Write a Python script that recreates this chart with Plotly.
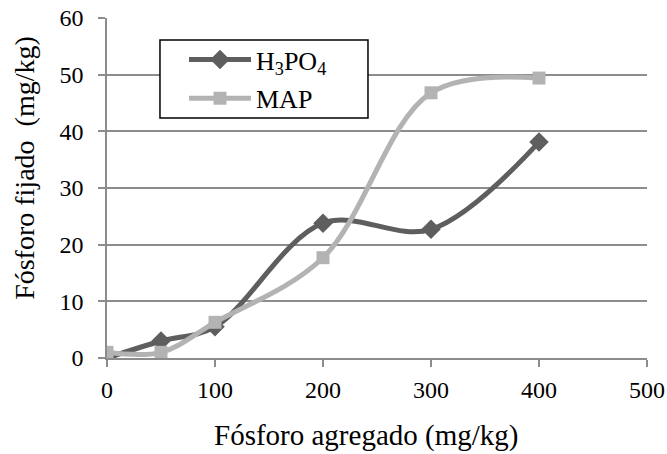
import plotly.graph_objects as go

x_vals = [0, 50, 100, 200, 300, 400]
h3po4 = [0.0, 3.0, 5.5, 23.8, 22.7, 38.1]
map_vals = [1.0, 1.0, 6.3, 17.7, 46.8, 49.4]

x_ticks = [0, 100, 200, 300, 400, 500]
y_ticks = [0, 10, 20, 30, 40, 50, 60]

FONT = "Liberation Serif"
DARK = "#5e5e5e"
LIGHT = "#b3b3b3"
GRID = "#8c8c8c"

fig = go.Figure()
fig.add_trace(go.Scatter(
    x=x_vals, y=h3po4, name="H<sub>3</sub>PO<sub>4</sub>", legendgroup="a",
    mode="lines+markers", line=dict(color=DARK, width=5, shape="spline"),
    marker=dict(symbol="diamond", size=15, color=DARK),
))
fig.add_trace(go.Scatter(
    x=x_vals, y=map_vals, name="MAP", legendgroup="b",
    mode="lines+markers", line=dict(color=LIGHT, width=5, shape="spline"),
    marker=dict(symbol="square", size=13, color=LIGHT),
))

# legend frame
fig.add_shape(type="rect", xref="paper", yref="paper",
              x0=0.0981, x1=0.4833, y0=0.7059, y1=0.9353,
              line=dict(color="black", width=1.5), fillcolor="white", layer="above")

fig.add_annotation(text="Fósforo agregado (mg/kg)", xref="paper", yref="paper",
                   x=0.48, y=-0.229, showarrow=False, xanchor="center", yanchor="middle",
                   font=dict(family=FONT, size=29, color="black"))
fig.add_annotation(text="Fósforo fijado\u00a0\u00a0(mg/kg)", xref="paper", yref="paper",
                   x=-0.152, y=0.559, showarrow=False, xanchor="center", yanchor="middle",
                   textangle=-90, font=dict(family=FONT, size=28, color="black"))

fig.update_layout(
    width=667, height=454, autosize=False,
    margin=dict(l=107, r=20, t=18, b=96, autoexpand=False),
    paper_bgcolor="white", plot_bgcolor="white",
    font=dict(family=FONT, color="black", size=24),
    showlegend=True,
    legend=dict(
        x=0.1426, y=0.947, xanchor="left", yanchor="top",
        borderwidth=0, bgcolor="rgba(0,0,0,0)",
        font=dict(family=FONT, size=26, color="black"),
        itemwidth=62, tracegroupgap=2, traceorder="grouped",
    ),
    xaxis=dict(
        range=[0, 500], tickvals=x_ticks, ticktext=[str(v) for v in x_ticks],
        showgrid=False, zeroline=False,
        showline=True, linecolor=GRID, linewidth=1.5,
        ticks="outside", ticklen=7, tickcolor=GRID, tickwidth=1.5,
        tickfont=dict(family=FONT, size=24), ticklabelstandoff=2,
    ),
    yaxis=dict(
        range=[0, 60], tickvals=y_ticks, ticktext=[str(v) for v in y_ticks],
        showgrid=True, gridcolor=GRID, gridwidth=1.5, zeroline=False,
        showline=True, linecolor=GRID, linewidth=1.5,
        ticks="outside", ticklen=7, tickcolor=GRID, tickwidth=1.5,
        tickfont=dict(family=FONT, size=24), ticklabelstandoff=10,
    ),
)

fig.write_html("out.html", config={"responsive": False})
